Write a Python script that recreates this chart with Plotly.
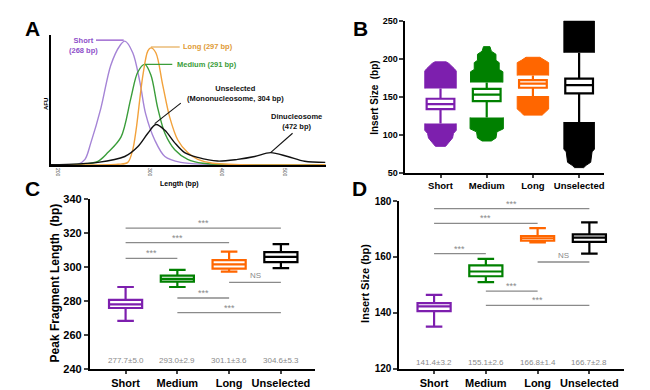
import plotly.graph_objects as go

FONT = "Arial, Liberation Sans, sans-serif"

# ---------------- Panel A: electropherogram (arbitrary migration units 0-100, AFU 0-100) -------------
a_tick_pos = [2.5, 36, 62.2, 85.1]
a_tick_lab = ["200", "300", "400", "500"]

a_short_x = [0, 9.8, 12.4, 14.5, 18.2, 21.8, 25.1, 26.9, 29.8, 32.4, 34.5, 37.8, 41.5, 47.3, 57.1, 100]
a_short_y = [0.4, 0.7, 4.5, 17, 44, 77, 92, 95.5, 86.6, 64, 39.5, 19.4, 6.7, 2.2, 0.7, 0.4]

a_medium_x = [0, 10.9, 17.1, 20.7, 25.5, 29.1, 31.6, 34.2, 36.4, 38.9, 41.5, 45.1, 49.8, 55.3, 100]
a_medium_y = [0.4, 0.7, 3, 9.7, 21.6, 51.5, 71.6, 77.6, 69.4, 44, 24.6, 11.9, 4.5, 1.5, 0.4]

a_long_x = [0, 24.4, 28, 29.8, 31, 33.5, 35.3, 36.4, 38.2, 40.7, 43.3, 46.2, 49.8, 53.5, 58.9, 100]
a_long_y = [0.4, 0.7, 2.2, 12, 27, 69.4, 88, 90.3, 86.6, 61.9, 36.6, 19.4, 9.7, 4.5, 1.5, 0.4]

a_unsel_x = [0, 17.1, 26.9, 31.6, 35.3, 38.2, 41.5, 45.1, 48.7, 53.5, 60.7, 68, 74.2, 80, 86.2, 92.4, 100]
a_unsel_y = [0.4, 2.2, 6.7, 14.2, 24.6, 31.3, 26.9, 17.2, 9.7, 6, 3.2, 4.5, 6.7, 9.7, 6.7, 3, 2.2]

# label text, anchor point, leader line (x0, y0, x1, y1)
a_labels = ["Short<br>(268 bp)", "Long (297 bp)", "Medium (291 bp)",
            "Unselected<br>(Mononucleosome, 304 bp)", "Dinucleosome<br>(472 bp)"]
a_label_x = [11.8, 47.3, 45.1, 67.3, 89.5]
a_label_y = [92.2, 91.4, 77.6, 54.9, 33.6]
a_leader_x = [[16.4, 26.5], [36.4, 46.9], [34.2, 44.2], [37.8, 47.3], [80, 88]]
a_leader_y = [[96.3, 96.3], [91, 91], [77.6, 77.6], [32, 47.8], [9.7, 24.6]]

# ---------------- Panels B-D ----------------
categories = ["Short", "Medium", "Long", "Unselected"]

b_q1 = [134, 144.5, 162, 154.5]
b_med = [140.5, 153, 167.5, 165.5]
b_q3 = [147.5, 160.5, 172, 174]
b_lo = [115, 123, 151, 117]
b_hi = [161, 169, 178, 208]
# outlier clouds: y levels and half-widths (category units)
b_cloud_hi_y = [[161, 184, 187, 191, 194, 196],
                [169, 183, 186, 195, 198, 206, 210, 216],
                [178, 195, 198, 202],
                [208, 250]]
b_cloud_hi_w = [[0.34, 0.34, 0.30, 0.24, 0.18, 0.12],
                [0.35, 0.35, 0.27, 0.27, 0.20, 0.20, 0.10, 0.07],
                [0.34, 0.34, 0.25, 0.15],
                [0.33, 0.33]]
b_cloud_lo_y = [[115, 106, 102, 96, 90, 85],
                [123, 108, 104, 96, 92],
                [151, 134, 131, 126],
                [117, 81, 78, 64, 60, 57]]
b_cloud_lo_w = [[0.34, 0.34, 0.28, 0.26, 0.18, 0.11],
                [0.36, 0.36, 0.22, 0.20, 0.10],
                [0.34, 0.34, 0.28, 0.20],
                [0.33, 0.33, 0.28, 0.25, 0.15, 0.10]]

c_q1 = [275.8, 291.4, 299, 302.9]
c_med = [278, 293, 301.5, 305.9]
c_q3 = [280.6, 294.9, 304, 308.8]
c_lo = [268.2, 288.2, 297.3, 299.3]
c_hi = [288.2, 298.3, 309.1, 313.5]
c_stats = ["277.7±5.0", "293.0±2.9", "301.1±3.6", "304.6±5.3"]

d_q1 = [140.6, 153.1, 165.8, 165.4]
d_med = [142.3, 154.8, 166.7, 166.9]
d_q3 = [143.5, 157, 167.5, 168.1]
d_lo = [135.1, 151, 165.2, 161.2]
d_hi = [146.4, 159.3, 170.3, 172.4]
d_stats = ["141.4±3.2", "155.1±2.6", "166.8±1.4", "166.7±2.8"]

sig_from = [0, 0, 0, 2, 1, 1]
sig_to = [3, 2, 1, 3, 2, 3]
sig_text = ["***", "***", "***", "NS", "***", "***"]
c_sig_y = [322.9, 314.3, 305.1, 290.9, 281.7, 273.1]
d_sig_y = [177.3, 172.0, 161.2, 158.2, 147.8, 142.7]

# ---------------- styling ----------------
box_colors = ["#7d1fae", "#008000", "#ff6600", "#000000"]
a_colors = ["#a584d6", "#3a9d3a", "#f2a23c", "#111111"]
a_text_colors = ["#8e4fc9", "#e09a35", "#3a9d3a", "#111111", "#111111"]
GREY = "#8a8a8a"

W, H = 650, 390
def px(x):
    return x / W
def py(y):
    return 1 - y / H

fig = go.Figure()

# Panel A curves
for xs, ys, col in [(a_short_x, a_short_y, a_colors[0]), (a_medium_x, a_medium_y, a_colors[1]),
                    (a_long_x, a_long_y, a_colors[2]), (a_unsel_x, a_unsel_y, a_colors[3])]:
    fig.add_trace(go.Scatter(x=xs, y=ys, mode="lines", line=dict(color=col, width=1.4, shape="spline", smoothing=0.9),
                             xaxis="x", yaxis="y", hoverinfo="skip"))
for i in range(len(a_labels)):
    fig.add_trace(go.Scatter(x=a_leader_x[i], y=a_leader_y[i], mode="lines",
                             line=dict(color=a_text_colors[i], width=1.1), xaxis="x", yaxis="y", hoverinfo="skip"))
anchors = ["center", "left", "left", "center", "center"]
for i, t in enumerate(a_labels):
    fig.add_annotation(x=a_label_x[i], y=a_label_y[i], xref="x", yref="y", text=t, showarrow=False,
                       xanchor=anchors[i], yanchor="middle", align="center",
                       font=dict(family=FONT, size=7.5, color=a_text_colors[i], weight="bold"))

# Panel B
for i, cat in enumerate(categories):
    col = box_colors[i]
    for ys, ws in [(b_cloud_hi_y[i], b_cloud_hi_w[i]), (b_cloud_lo_y[i], b_cloud_lo_w[i])]:
        xs = [i - w for w in ws] + [i + w for w in reversed(ws)]
        yy = list(ys) + list(reversed(ys))
        fig.add_trace(go.Scatter(x=xs, y=yy, mode="lines", fill="toself", fillcolor=col,
                                 line=dict(color=col, width=1), xaxis="x2", yaxis="y2", hoverinfo="skip"))
    fig.add_trace(go.Box(x=[i], q1=[b_q1[i]], median=[b_med[i]], q3=[b_q3[i]],
                         lowerfence=[b_lo[i]], upperfence=[b_hi[i]], width=0.6, whiskerwidth=0,
                         fillcolor="white", line=dict(color=col, width=2.2), xaxis="x2", yaxis="y2",
                         boxpoints=False))

# Panels C and D
for q1, med, q3, lo, hi, stats, sig_y, xa, ya, stat_y in [
        (c_q1, c_med, c_q3, c_lo, c_hi, c_stats, c_sig_y, "x3", "y3", 244.6),
        (d_q1, d_med, d_q3, d_lo, d_hi, d_stats, d_sig_y, "x4", "y4", 122.1)]:
    for i in range(4):
        fig.add_trace(go.Box(x=[i], q1=[q1[i]], median=[med[i]], q3=[q3[i]],
                             lowerfence=[lo[i]], upperfence=[hi[i]], width=0.64, whiskerwidth=0.5,
                             fillcolor="white", line=dict(color=box_colors[i], width=2.2),
                             xaxis=xa, yaxis=ya, boxpoints=False))
        fig.add_annotation(x=i, y=stat_y, xref=xa, yref=ya, text=stats[i], showarrow=False,
                           font=dict(family=FONT, size=8, color=GREY), yanchor="middle")
    sx, sy = [], []
    for k in range(len(sig_from)):
        sx += [sig_from[k], sig_to[k], None]
        sy += [sig_y[k], sig_y[k], None]
        fig.add_annotation(x=(sig_from[k] + sig_to[k]) / 2, y=sig_y[k], xref=xa, yref=ya, text=sig_text[k],
                           showarrow=False, yanchor="bottom", yshift=-2 if sig_text[k] == "***" else 0,
                           font=dict(family=FONT, size=9 if sig_text[k] == "***" else 8, color=GREY))
    fig.add_trace(go.Scatter(x=sx, y=sy, mode="lines", line=dict(color=GREY, width=1.3),
                             xaxis=xa, yaxis=ya, hoverinfo="skip"))

axis_common = dict(showline=True, linecolor="black", zeroline=False, showgrid=False, mirror=False)

fig.update_layout(
    width=W, height=H, margin=dict(l=0, r=0, t=0, b=0), showlegend=False,
    paper_bgcolor="white", plot_bgcolor="white",
    xaxis=dict(domain=[px(43), px(318)], anchor="y", range=[0, 100], linewidth=1.5,
               tickvals=a_tick_pos, ticktext=a_tick_lab, tickangle=90, ticks="",
               tickfont=dict(family=FONT, size=5, color="#444"), **axis_common),
    yaxis=dict(domain=[py(156), py(22)], anchor="x", range=[0, 100], linewidth=1.5,
               showticklabels=False, ticks="", **axis_common),
    xaxis2=dict(domain=[px(398), px(597)], anchor="y2", range=[-0.76, 3.54], linewidth=1.8,
                tickvals=[0, 1, 2, 3], ticktext=categories, ticks="outside", ticklen=3, tickwidth=1.5,
                tickfont=dict(family=FONT, size=9.5, color="black", weight="bold"), **axis_common),
    yaxis2=dict(domain=[py(164), py(7)], anchor="x2", range=[50, 250], dtick=50, linewidth=1.8,
                ticks="outside", ticklen=4, tickwidth=1.5,
                tickfont=dict(family=FONT, size=9, color="black", weight="bold"), **axis_common),
    xaxis3=dict(domain=[px(82), px(307)], anchor="y3", range=[-0.69, 3.65], linewidth=2,
                tickvals=[0, 1, 2, 3], ticktext=categories, ticks="outside", ticklen=3, tickwidth=1.5,
                tickfont=dict(family=FONT, size=11, color="black", weight="bold"), **axis_common),
    yaxis3=dict(domain=[py(366), py(191)], anchor="x3", range=[240, 340], dtick=20, linewidth=2,
                ticks="outside", ticklen=4, tickwidth=1.5,
                tickfont=dict(family=FONT, size=11, color="black", weight="bold"), **axis_common),
    xaxis4=dict(domain=[px(392), px(617)], anchor="y4", range=[-0.67, 3.67], linewidth=2,
                tickvals=[0, 1, 2, 3], ticktext=categories, ticks="outside", ticklen=3, tickwidth=1.5,
                tickfont=dict(family=FONT, size=11, color="black", weight="bold"), **axis_common),
    yaxis4=dict(domain=[py(366), py(193)], anchor="x4", range=[120, 180], dtick=20, linewidth=2,
                ticks="outside", ticklen=4, tickwidth=1.5,
                tickfont=dict(family=FONT, size=10, color="black", weight="bold"), **axis_common),
)

# panel letters
for letter, (x, y) in zip(["A", "B", "C", "D"], [(25, 15), (353, 15), (25, 180), (352, 180)]):
    fig.add_annotation(x=px(x), y=py(y), xref="paper", yref="paper", text=letter, showarrow=False,
                       xanchor="center", yanchor="middle",
                       font=dict(family=FONT, size=21, color="black", weight="bold"))

# axis titles
titles = [("AFU", 38, 93, 6, -90), ("Length (bp)", 172, 175, 7, 0),
          ("Insert Size  (bp)", 367, 86, 10, -90),
          ("Peak Fragment Length  (bp)", 48, 277, 12, -90),
          ("Insert Size (bp)", 358, 278, 11, -90)]
for t, x, y, s, ang in titles:
    fig.add_annotation(x=px(x), y=py(y), xref="paper", yref="paper", text=t, showarrow=False,
                       textangle=ang, xanchor="center", yanchor="middle",
                       font=dict(family=FONT, size=s, color="black", weight="bold"))

fig.write_html("out.html")
